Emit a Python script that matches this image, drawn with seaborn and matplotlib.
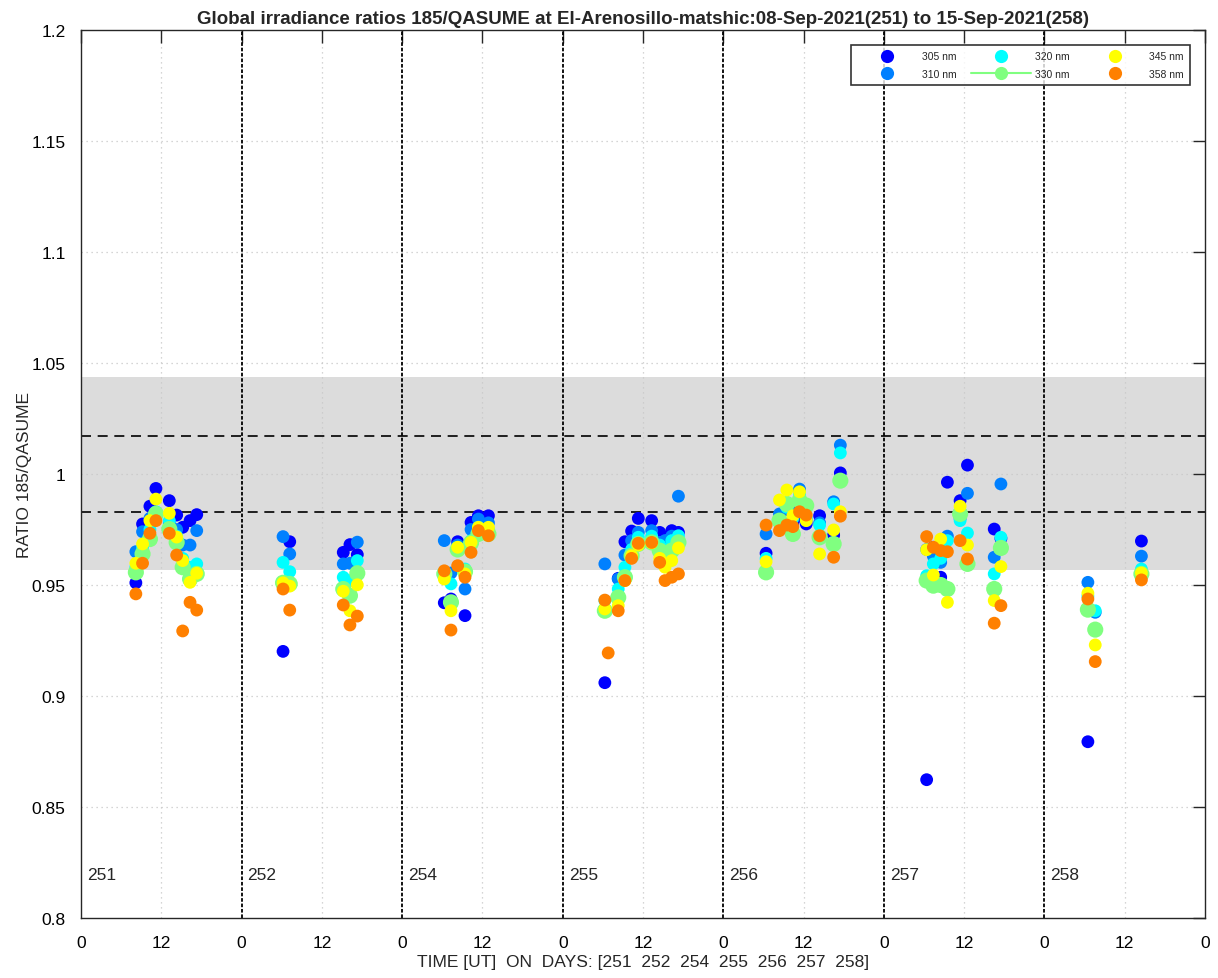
import numpy as np
import pandas as pd
import seaborn as sns
import matplotlib
matplotlib.use('Agg')
import matplotlib.pyplot as plt
from matplotlib.lines import Line2D

days = [251, 252, 254, 255, 256, 257, 258]
wavelengths = [305, 310, 320, 330, 345, 358]
colors = {305: '#0000ff', 310: '#0080ff', 320: '#00ffff',
          330: '#80ff80', 345: '#ffff00', 358: '#ff8000'}
nan = np.nan

# hours (UT) of each scan and ratios per wavelength
t251 = [8.2, 9.2, 10.3, 11.2, 13.2, 14.3, 15.2, 16.3, 17.3]
r251 = {305: [0.951, 0.9775, 0.9855, 0.9935, 0.988, 0.9815, 0.976, 0.979, 0.9817],
        310: [0.965, 0.974, 0.980, 0.982, 0.978, 0.975, 0.968, 0.968, 0.9745],
        320: [0.958, 0.967, 0.975, 0.983, 0.979, 0.972, 0.962, 0.958, 0.9595],
        330: [0.9557, 0.964, 0.9707, 0.982, 0.9752, 0.9692, 0.958, 0.9527, 0.955],
        345: [0.9598, 0.9685, 0.979, 0.9887, 0.9823, 0.9716, 0.961, 0.9512, 0.9553],
        358: [0.946, 0.9598, 0.9733, 0.979, 0.9733, 0.9635, 0.9293, 0.9422, 0.9387]}

t252 = [6.2, 7.2, 15.2, 16.2, 17.3]
r252 = {305: [0.9201, 0.9695, 0.9647, 0.9682, 0.9637],
        310: [0.9718, 0.964, 0.9595, 0.9598, 0.9693],
        320: [0.9602, 0.956, 0.9535, 0.952, 0.961],
        330: [0.951, 0.9505, 0.9482, 0.9452, 0.9553],
        345: [0.951, 0.9495, 0.9472, 0.9384, 0.9501],
        358: [0.9482, 0.9387, 0.941, 0.932, 0.936]}

t254 = [6.3, 7.3, 8.3, 9.4, 10.3, 11.4, 12.9]
r254 = {305: [0.942, 0.9437, 0.9695, 0.9362, 0.9782, 0.9812, 0.9812],
        310: [0.970, 0.9554, 0.968, 0.9482, 0.975, 0.9797, 0.978],
        320: [0.955, 0.9505, 0.967, 0.9572, 0.970, 0.976, 0.975],
        330: [0.955, 0.9422, 0.966, 0.956, 0.969, 0.973, 0.973],
        345: [0.9527, 0.9384, 0.967, 0.955, 0.9692, 0.976, 0.976],
        358: [0.9564, 0.9297, 0.9587, 0.9535, 0.9647, 0.9745, 0.9722]}

t255 = [6.3, 6.8, 8.3, 9.3, 10.3, 11.3, 13.3, 14.5, 15.3, 16.3, 17.3]
r255 = {305: [0.906, nan, 0.953, 0.9695, 0.9743, 0.980, 0.979, 0.9737, 0.969, 0.9745, 0.9737],
        310: [0.9595, nan, 0.9527, 0.9635, 0.970, 0.9737, 0.9745, 0.9692, 0.970, 0.972, 0.990],
        320: [0.943, nan, 0.9482, 0.958, 0.966, 0.9715, 0.972, 0.968, 0.966, 0.970, 0.9722],
        330: [0.9384, nan, 0.9444, 0.9535, 0.9632, 0.9685, 0.9692, 0.9655, 0.963, 0.9655, 0.9692],
        345: [0.9392, nan, 0.9407, 0.952, 0.9632, 0.968, 0.969, 0.962, 0.958, 0.961, 0.9667],
        358: [0.9432, 0.9194, 0.9384, 0.952, 0.962, 0.9688, 0.9692, 0.9602, 0.952, 0.9535, 0.955]}

t256 = [6.4, 8.4, 9.5, 10.4, 11.4, 12.4, 14.4, 16.5, 17.5]
r256 = {305: [0.9643, nan, 0.984, 0.978, 0.981, 0.9775, 0.9812, 0.9725, 1.0005],
        310: [0.973, 0.982, 0.984, 0.985, 0.9932, 0.979, 0.978, 0.9875, 1.013],
        320: [0.962, 0.978, 0.985, 0.980, 0.991, 0.980, 0.977, 0.9865, 1.0095],
        330: [0.9557, 0.979, 0.9865, 0.973, 0.988, 0.9858, 0.9715, 0.9685, 0.997],
        345: [0.9605, 0.9883, 0.9928, 0.9812, 0.992, 0.979, 0.964, 0.9748, 0.983],
        358: [0.977, 0.9745, 0.977, 0.9763, 0.983, 0.9815, 0.9722, 0.9625, 0.981]}

t257 = [6.4, 7.4, 8.5, 9.5, 11.4, 12.5, 16.5, 17.5]
r257 = {305: [0.8623, 0.967, 0.9535, 0.9963, 0.988, 1.004, 0.9752, 0.971],
        310: [0.966, 0.963, 0.9602, 0.972, 0.980, 0.9913, 0.9625, 0.9955],
        320: [0.9542, 0.9595, 0.962, 0.970, 0.979, 0.9734, 0.955, 0.9715],
        330: [0.952, 0.9497, 0.950, 0.9482, 0.982, 0.9595, 0.9482, 0.9667],
        345: [0.9659, 0.9545, 0.9707, 0.9422, 0.9855, 0.968, 0.943, 0.9583],
        358: [0.9718, 0.967, 0.9655, 0.965, 0.970, 0.9617, 0.9328, 0.9407]}

t258 = [6.5, 7.6, 14.5]
r258 = {305: [0.8794, nan, 0.9698],
        310: [0.9512, 0.9377, 0.963],
        320: [0.945, 0.9384, 0.9572],
        330: [0.9389, 0.9299, 0.955],
        345: [0.9463, 0.923, 0.9554],
        358: [0.9437, 0.9155, 0.9523]}

times = [t251, t252, t254, t255, t256, t257, t258]
ratios = [r251, r252, r254, r255, r256, r257, r258]

band = (0.9568, 1.0437)
dashed = [1.0171, 0.9829]

rows = []
for i, (t, r) in enumerate(zip(times, ratios)):
    for w in wavelengths:
        for h, v in zip(t, r[w]):
            rows.append({'x': i * 24 + h, 'ratio': v, 'wl': w})
df = pd.DataFrame(rows).dropna()

sns.set_style('white')
plt.rcParams['font.family'] = ['Liberation Sans', 'DejaVu Sans']

fig = plt.figure(figsize=(12.18, 9.79), dpi=100)
ax = fig.add_axes([0.0665, 0.0613, 0.9228, 0.907])

ax.axhspan(band[0], band[1], color='#dcdcdc', zorder=0, lw=0)
for y in dashed:
    ax.axhline(y, color='black', ls=(0, (6, 4)), lw=1.2, zorder=1)

sizes = {w: (135 if w == 330 else 85) for w in wavelengths}
for w in wavelengths:
    sns.scatterplot(data=df[df.wl == w], x='x', y='ratio', color=colors[w],
                    s=sizes[w], edgecolor='none', ax=ax, zorder=3, legend=False)

# grid
for gx in range(12, 168, 24):
    ax.axvline(gx, color='#c8c8c8', ls=(0, (1, 3)), lw=0.9, zorder=0.5)
for gy in np.arange(0.85, 1.2, 0.05):
    ax.axhline(gy, color='#c8c8c8', ls=(0, (1, 3)), lw=0.9, zorder=0.5)
for d in range(1, 7):
    ax.axvline(d * 24, color='black', ls=(0, (2, 1)), lw=1.3, zorder=2)

for i, d in enumerate(days):
    ax.text(i * 24 + 0.9, 0.8198, str(d), fontsize=12.5, va='center', ha='left')

ax.set_xlim(0, 168)
ax.set_ylim(0.8, 1.2)
ax.set_xticks(np.arange(0, 169, 12))
ax.set_xticklabels(['0', '12'] * 7 + ['0'])
yt = np.arange(0.8, 1.2001, 0.05)
ax.set_yticks(yt)
ax.set_yticklabels(['%g' % round(v, 2) for v in yt])
ax.tick_params(direction='in', top=True, right=True, length=9, width=1,
               labelsize=12.5, colors='#262626', labelcolor='black')
ax.tick_params(axis='y', pad=11)
ax.tick_params(axis='x', pad=12)
for s in ax.spines.values():
    s.set_linewidth(1)
    s.set_color('#262626')

ax.set_xlabel('TIME [UT]  ON  DAYS: [251  252  254  255  256  257  258]', fontsize=12.5, labelpad=3)
ax.set_ylabel('RATIO 185/QASUME', fontsize=12.5, labelpad=0)
ax.set_title('Global irradiance ratios 185/QASUME at El-Arenosillo-matshic:08-Sep-2021(251) to 15-Sep-2021(258)',
             fontsize=13.5, fontweight='bold', pad=5)

handles = []
for w in wavelengths:
    handles.append(Line2D([], [], marker='o', color=colors[w], markersize=9.5,
                          markeredgecolor='none', ls='-' if w == 330 else 'none', lw=1.5))
leg = ax.legend(handles, ['%d nm' % w for w in wavelengths], ncol=3, fontsize=7.5,
                loc='upper right', bbox_to_anchor=(0.9867, 0.9831), frameon=True,
                fancybox=False, edgecolor='black', handlelength=5.8, columnspacing=1.4,
                borderpad=0.6, labelspacing=0.7, handletextpad=0.4,
                borderaxespad=0)
leg.get_frame().set_linewidth(1.2)

fig.savefig('out.png', dpi=100)
